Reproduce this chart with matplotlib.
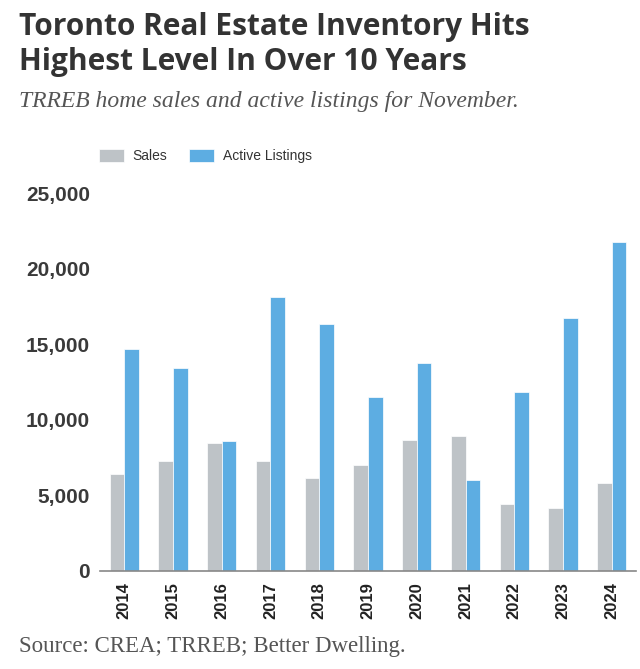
import numpy as np
import matplotlib.pyplot as plt

# November figures
years = ['2014', '2015', '2016', '2017', '2018', '2019', '2020', '2021', '2022', '2023', '2024']
sales = [6400, 7250, 8450, 7250, 6130, 6990, 8640, 8900, 4410, 4150, 5820]
active_listings = [14700, 13400, 8580, 18140, 16360, 11490, 13730, 6020, 11820, 16710, 21760]
yticks = [0, 5000, 10000, 15000, 20000, 25000]

gray = '#BEC3C7'
blue = '#5DADE2'

fig = plt.figure(figsize=(6.4, 6.69), dpi=100)
ax = fig.add_axes([0.156, 0.1465, 0.838, 0.565])

x = np.arange(len(years))
w = 0.3
ax.bar(x - w / 2, sales, w, color=gray, edgecolor='white', linewidth=0.5, label='Sales')
ax.bar(x + w / 2, active_listings, w, color=blue, edgecolor='white', linewidth=0.5, label='Active Listings')

ax.set_xlim(-0.5, len(years) - 0.5)
ax.set_ylim(0, 25000)
ax.set_yticks(yticks)
ax.set_yticklabels([f'{v:,}' for v in yticks], fontsize=15, fontweight='bold',
                   color='#3a3a3a', family='Liberation Sans')
ax.set_xticks(x)
ax.set_xticklabels(years, rotation=90, fontsize=12, fontweight='bold',
                   color='#222222', family='Liberation Sans')
ax.tick_params(length=0)
ax.tick_params(axis='y', pad=7)
ax.tick_params(axis='x', pad=8)
for s in ['top', 'right', 'left']:
    ax.spines[s].set_visible(False)
ax.spines['bottom'].set_color('#888888')
ax.spines['bottom'].set_linewidth(1.2)

leg = ax.legend(loc='lower left', bbox_to_anchor=(-0.025, 1.045), ncol=2, frameon=False,
                prop={'family': 'Liberation Sans', 'size': 10}, handlelength=1.8,
                handleheight=1.1, columnspacing=1.6, handletextpad=0.6)
for t in leg.get_texts():
    t.set_color('#333333')

fig.text(0.03, 0.982, 'Toronto Real Estate Inventory Hits\nHighest Level In Over 10 Years',
         fontsize=21.5, fontweight='bold', color='#333333', family='Open Sans',
         va='top', ha='left', linespacing=1.22)
fig.text(0.03, 0.848, 'TRREB home sales and active listings for November.',
         fontsize=17, style='italic', color='#555555', family='Liberation Serif', va='center')
fig.text(0.03, 0.033, 'Source: CREA; TRREB; Better Dwelling.',
         fontsize=16.5, color='#555555', family='Liberation Serif', va='center')

fig.savefig('out.png', dpi=100, facecolor='white')
